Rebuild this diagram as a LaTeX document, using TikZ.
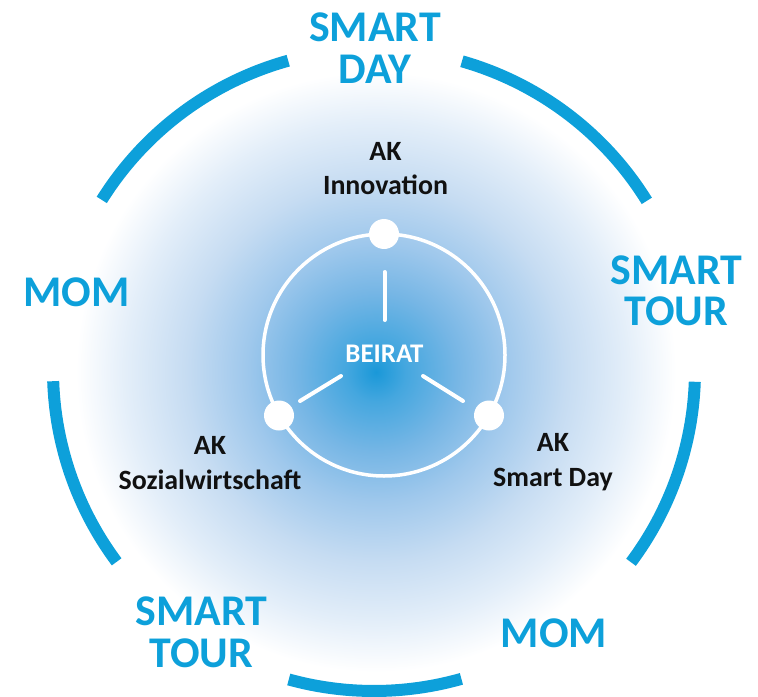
\documentclass[tikz,border=0pt]{standalone}
\usepackage{fontspec}
\setmainfont{Carlito}
\usetikzlibrary{calc}
\definecolor{brand}{HTML}{0DA0DA}
\definecolor{gA}{HTML}{1A98D8}
\definecolor{gB}{HTML}{45A7DF}
\definecolor{gC}{HTML}{76B6E5}
\definecolor{gD}{HTML}{9FC8EC}
\definecolor{gE}{HTML}{C6DCF2}
\definecolor{gF}{HTML}{E3EEF9}
\definecolor{inktext}{HTML}{111111}
\pgfdeclareradialshading{glow}{\pgfpoint{0bp}{0bp}}{color(0bp)=(gA); color(2.5bp)=(gB); color(6.67bp)=(gC); color(10.83bp)=(gD); color(15.83bp)=(gE); color(20.83bp)=(gF); color(25bp)=(white); color(50bp)=(white)}
\tikzset{
  arcseg/.style={draw=brand, line width=12bp, line cap=butt},
  biglabel/.style={text=brand, inner sep=0pt, align=center, font=\fontsize{44}{41.5}\selectfont\bfseries},
  aklabel/.style={text=inktext, inner sep=0pt, align=center, font=\fontsize{28}{35}\selectfont\bfseries},
  ringnode/.style={circle, fill=white, minimum size=30bp, inner sep=0pt},
  ringline/.style={draw=white, line width=3.5bp},
  spoke/.style={draw=white, line width=4bp, line cap=round}
}
\begin{document}
\begin{tikzpicture}[x=1bp,y=-1bp]
\useasboundingbox (0,0) rectangle (758,697);
\coordinate (C) at (374,370);
\coordinate (G) at (376,372);
\coordinate (R) at (384,355);
\shade[shading=glow] (G) circle (300);
\foreach \a/\b in {31.8/74.1, 105.5/148, 182/216.7, 254.6/285.8, 323.2/357.9}
  \draw[arcseg] ($(C)+(-\a:321)$) arc[start angle=-\a, end angle=-\b, radius=321];
\draw[ringline] (R) circle (121);
\node[ringnode] (nInno) at (384,234) {};
\node[ringnode] (nSozial) at (279,415.5) {};
\node[ringnode] (nSmart) at (489,415.5) {};
\coordinate (sT1) at (384.5,272);
\coordinate (sT2) at (384.5,320);
\coordinate (sL1) at (341,376);
\coordinate (sL2) at (300,401);
\coordinate (sR1) at (423,376);
\coordinate (sR2) at (463,401);
\draw[spoke] (sT1) -- (sT2);
\draw[spoke] (sL1) -- (sL2);
\draw[spoke] (sR1) -- (sR2);
\node[text=white, inner sep=0pt, font=\fontsize{27}{32}\selectfont\bfseries] (beirat) at (384.5,354) {BEIRAT};
\node[aklabel] (akInno) at (385.5,168.5) {AK\\Innovation};
\node[aklabel] (akSozial) at (210,463) {AK\\Sozialwirtschaft};
\node[aklabel] (akSmart) at (553,462) {AK\\Smart Day};
\node[biglabel] (lDay) at (375,48) {SMART\\DAY};
\node[biglabel] (lTourR) at (676.5,291) {SMART\\TOUR};
\node[biglabel] (lMomL) at (76.5,292) {MOM};
\node[biglabel] (lTourL) at (201.5,632.3) {SMART\\TOUR};
\node[biglabel] (lMomR) at (554,633) {MOM};
\end{tikzpicture}
\end{document}
